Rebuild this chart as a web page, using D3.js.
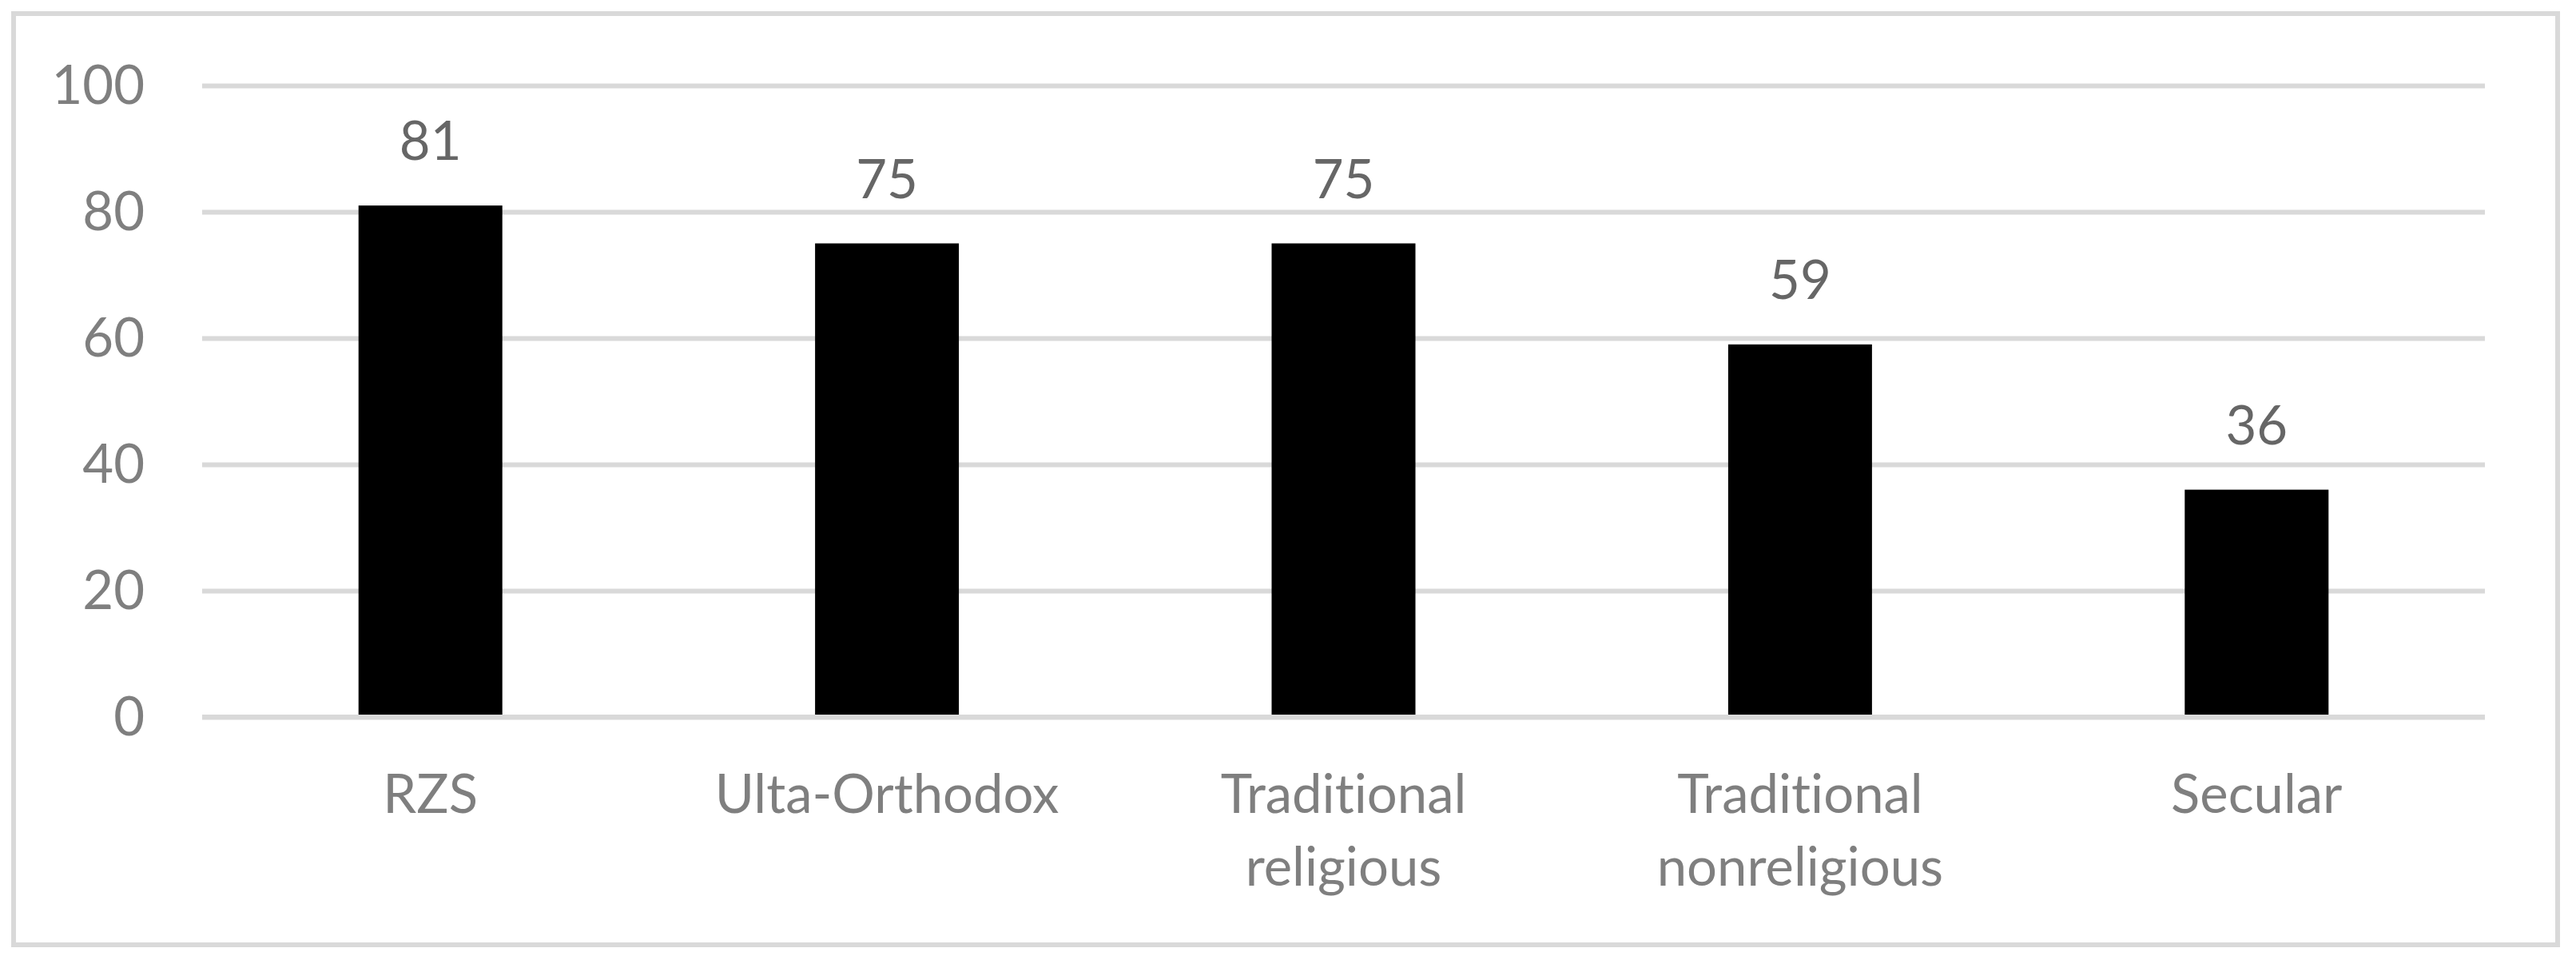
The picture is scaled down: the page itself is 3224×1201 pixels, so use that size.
<!DOCTYPE html>
<meta charset="utf-8">
<script src="https://d3js.org/d3.v7.min.js"></script>
<body style="margin: 0; background: #ffffff;">
<div id="chart"></div>
</body>
<script>

    // Data
    var categories = ["RZS", "Ulta-Orthodox", "Traditional religious", "Traditional nonreligious", "Secular"];
    var values = [81, 75, 75, 59, 36];
    var yTicks = [0, 20, 40, 60, 80, 100];

    var W = 3224, H = 1201;
    var plotLeft = 253, plotRight = 3110, plotTop = 107, plotBottom = 897;

    var svg = d3.select("#chart")
        .append("svg")
        .attr("width", W)
        .attr("height", H)
        .style("font-family", "Lato, 'Open Sans', sans-serif")
        .style("font-variant-ligatures", "none");

    // Outer frame
    svg.append("rect")
        .attr("x", 17)
        .attr("y", 17)
        .attr("width", 3201 - 17)
        .attr("height", 1182 - 17)
        .attr("fill", "#ffffff")
        .attr("stroke", "#d9d9d9")
        .attr("stroke-width", 6);

    var x = d3.scaleBand()
        .domain(categories)
        .range([plotLeft, plotRight])
        .paddingInner(0.685)
        .paddingOuter(0.3425);

    var y = d3.scaleLinear()
        .domain([0, 100])
        .range([plotBottom, plotTop]);

    // Y axis with gridlines
    var yAxis = svg.append("g")
        .attr("transform", "translate(" + plotLeft + ",0)")
        .call(d3.axisLeft(y)
            .tickValues(yTicks)
            .tickSize(-(plotRight - plotLeft))
            .tickPadding(72));
    yAxis.select(".domain").remove();
    yAxis.selectAll("line")
        .attr("stroke", "#d9d9d9")
        .attr("stroke-width", 6);
    yAxis.selectAll("text")
        .attr("font-size", 67)
        .attr("font-family", "Lato, 'Open Sans', sans-serif")
        .attr("fill", "#7f7f7f")
        .attr("dy", "0.33em");

    // Bars
    svg.append("g")
        .selectAll("rect")
        .data(values)
        .enter()
        .append("rect")
        .attr("x", function (d, i) { return x(categories[i]); })
        .attr("y", function (d) { return y(d); })
        .attr("width", x.bandwidth())
        .attr("height", function (d) { return y(0) - y(d); })
        .attr("fill", "#000000");

    // Category axis line over the bars
    svg.append("line")
        .attr("x1", plotLeft)
        .attr("x2", plotRight)
        .attr("y1", y(0))
        .attr("y2", y(0))
        .attr("stroke", "#d9d9d9")
        .attr("stroke-width", 6);

    // Value labels
    svg.append("g")
        .selectAll("text")
        .data(values)
        .enter()
        .append("text")
        .attr("x", function (d, i) { return x(categories[i]) + x.bandwidth() / 2; })
        .attr("y", function (d) { return y(d) - 57; })
        .attr("text-anchor", "middle")
        .attr("font-size", 67)
        .attr("fill", "#666666")
        .text(function (d) { return d; });

    // Category labels (wrapped on spaces)
    var cat = svg.append("g")
        .selectAll("text")
        .data(categories)
        .enter()
        .append("text")
        .attr("x", function (d) { return x(d) + x.bandwidth() / 2; })
        .attr("y", 1017)
        .attr("text-anchor", "middle")
        .attr("font-size", 67)
        .attr("fill", "#7f7f7f");

    cat.selectAll("tspan")
        .data(function (d) { return d.split(" "); })
        .enter()
        .append("tspan")
        .attr("x", function () { return d3.select(this.parentNode).attr("x"); })
        .attr("dy", function (d, i) { return i === 0 ? 0 : 91; })
        .text(function (d) { return d; });

</script>
